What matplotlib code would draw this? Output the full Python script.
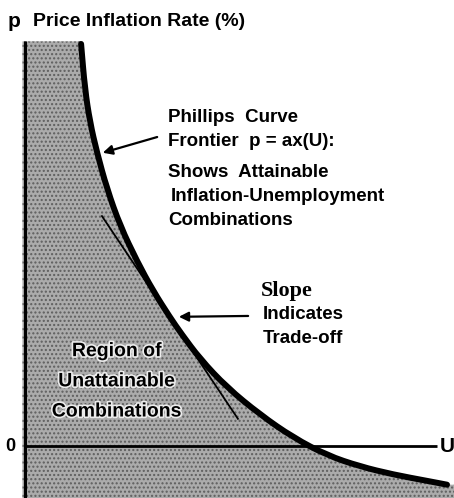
import matplotlib
matplotlib.use("Agg")
import matplotlib.pyplot as plt
import matplotlib.patheffects as pe
from matplotlib.path import Path
from matplotlib.patches import PathPatch
import numpy as np

# Phillips curve frontier (U, p)
curve_U = [1.32, 1.41, 1.53, 1.69, 1.93, 2.24, 2.64, 3.01, 3.41, 3.68, 4.12, 4.75,
           5.53, 6.31, 7.11, 7.88, 8.66, 9.46, 9.93]
curve_p = [9.46, 8.40, 7.62, 6.92, 6.05, 5.18, 4.34, 3.66, 3.03, 2.64, 2.05, 1.38,
           0.74, 0.20, -0.22, -0.48, -0.67, -0.82, -0.91]

# tangent (slope) line
tangent_U = [1.81, 5.01]
tangent_p = [5.41, 0.64]

# texts
y_title_sym = "p"
y_title = "Price Inflation Rate (%)"
frontier_lines = ["Phillips  Curve", "Frontier  p = ax(U):"]
shows_lines = ["Shows  Attainable", "Inflation-Unemployment", "Combinations"]
slope_title = "Slope"
slope_lines = ["Indicates", "Trade-off"]
region_lines = ["Region of", "Unattainable", "Combinations"]
origin_label = "0"
x_label = "U"

fig = plt.figure(figsize=(4.54, 4.98), dpi=100)
ax = fig.add_axes([0, 0, 1, 1])
s = 42.5
ax.set_xlim(-25 / s, (454 - 25) / s)
ax.set_ylim((446 - 498) / s, 446 / s)
ax.axis('off')


def smooth_path(xs, ys):
    """Quadratic B-spline style path through the read points (drawing only)."""
    pts = np.column_stack([xs, ys])
    verts = [pts[0], (pts[0] + pts[1]) / 2]
    codes = [Path.MOVETO, Path.LINETO]
    for i in range(1, len(pts) - 1):
        verts += [pts[i], (pts[i] + pts[i + 1]) / 2]
        codes += [Path.CURVE3, Path.CURVE3]
    verts.append(pts[-1])
    codes.append(Path.LINETO)
    return np.array(verts), codes


cv, cc = smooth_path(curve_U, curve_p)

# shaded unattainable region
top = 9.52
bottom = -1.3
xl = -0.06
xr = 10.3
fill_verts = [(xl, top), (curve_U[0], top)] + [tuple(v) for v in cv] + \
             [(xr, curve_p[-1]), (xr, bottom), (xl, bottom), (xl, top)]
fill_codes = [Path.MOVETO, Path.LINETO] + [Path.LINETO] + cc[1:] + \
             [Path.LINETO, Path.LINETO, Path.LINETO, Path.CLOSEPOLY]
ax.add_patch(PathPatch(Path(fill_verts, fill_codes), facecolor='#ababab',
                       edgecolor='#5e5e5e', lw=0, hatch='....', zorder=1))

# axes
ax.plot([0, 0], [bottom, top], color='black', lw=2.2, solid_capstyle='butt', zorder=3)
ax.plot([0, 9.69], [0, 0], color='black', lw=2.0, solid_capstyle='butt', zorder=3)

# tangent
ax.plot(tangent_U, tangent_p, color='black', lw=1.3, zorder=3)

# frontier
ax.add_patch(PathPatch(Path(cv, cc), facecolor='none', edgecolor='black', lw=4.3,
                       capstyle='round', joinstyle='round', zorder=4))

sans = 'Liberation Sans'
serif = 'Liberation Serif'
fs = 13.5

ax.text(-0.40, 9.98, y_title_sym, family=sans, weight='bold', fontsize=15,
        ha='left', va='center')
ax.text(0.19, 10.0, y_title, family=sans, weight='bold', fontsize=14,
        ha='left', va='center')

ax.text(3.36, 7.72, frontier_lines[0], family=sans, weight='bold', fontsize=fs,
        ha='left', va='center')
ax.text(3.36, 7.16, frontier_lines[1], family=sans, weight='bold', fontsize=fs,
        ha='left', va='center')
for txt, yy, xx in zip(shows_lines, [6.43, 5.86, 5.30], [3.36, 3.44, 3.36]):
    ax.text(xx, yy, txt, family=sans, weight='bold', fontsize=fs,
            ha='left', va='center')

ax.text(5.56, 3.64, slope_title, family=serif, weight='bold', fontsize=16,
        ha='left', va='center')
for txt, yy in zip(slope_lines, [3.09, 2.54]):
    ax.text(5.59, yy, txt, family=sans, weight='bold', fontsize=fs,
            ha='left', va='center')

for txt, yy in zip(region_lines, [2.22, 1.51, 0.80]):
    ax.text(2.16, yy, txt, family=sans, weight='bold', fontsize=14,
            ha='center', va='center', zorder=5,
            path_effects=[pe.withStroke(linewidth=2.4, foreground='#ececec')])

ax.text(-0.35, 0.0, origin_label, family=sans, weight='bold', fontsize=13,
        ha='center', va='center')
ax.text(9.93, 0.0, x_label, family=sans, weight='bold', fontsize=15,
        ha='center', va='center')

# arrows
ap = dict(arrowstyle='-|>', lw=1.6, color='black', mutation_scale=14,
          shrinkA=0, shrinkB=0)
ax.annotate('', xy=(1.83, 6.90), xytext=(3.11, 7.27), arrowprops=ap, zorder=6)
ax.annotate('', xy=(3.62, 3.04), xytext=(5.25, 3.06), arrowprops=ap, zorder=6)

fig.savefig('out.png', dpi=100)
